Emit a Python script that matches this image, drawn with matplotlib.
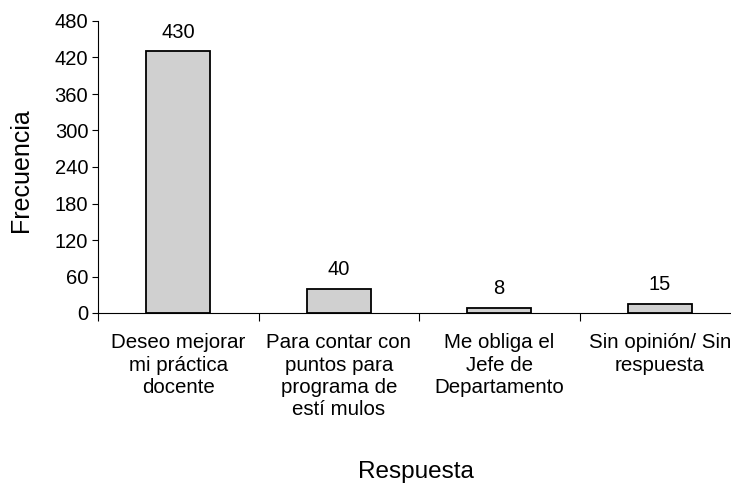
import matplotlib
matplotlib.use("Agg")
import matplotlib.pyplot as plt
import numpy as np

plt.rcParams['font.family'] = ['Liberation Sans', 'DejaVu Sans']

respuestas = [
    "Deseo mejorar\nmi práctica\ndocente",
    "Para contar con\npuntos para\nprograma de\nestí mulos",
    "Me obliga el\nJefe de\nDepartamento",
    "Sin opinión/ Sin\nrespuesta",
]
frecuencia = [430, 40, 8, 15]
y_ticks = [0, 60, 120, 180, 240, 300, 360, 420, 480]

fig = plt.figure(figsize=(7.31, 4.87), dpi=100)
# the plot area runs a little past the right edge of the figure
ax = fig.add_axes([98 / 731, 174 / 487, 642 / 731, 292 / 487])

x = np.arange(len(frecuencia))
ax.bar(x, frecuencia, width=0.4, color="#D0D0D0", edgecolor="black", linewidth=1.3)

for xi, v in zip(x, frecuencia):
    ax.annotate(str(v), (xi, v), xytext=(0, 7), textcoords="offset points",
                ha="center", va="bottom", fontsize=14.5)

ax.set_xlim(-0.5, len(frecuencia) - 0.5)
ax.set_ylim(0, 480)
ax.set_yticks(y_ticks)
ax.tick_params(axis="y", labelsize=14.5, length=4, width=0.8, pad=3)

# category names sit between the boundary tick marks
ax.set_xticks(np.arange(len(frecuencia) + 1) - 0.5)
ax.set_xticklabels([])
ax.tick_params(axis="x", length=6, width=0.8)
for xi, lab in zip(x, respuestas):
    ax.text(xi, -0.07, lab, transform=ax.get_xaxis_transform(), ha="center", va="top",
            fontsize=14.8, linespacing=1.22)

for side in ["top", "right"]:
    ax.spines[side].set_visible(False)
ax.spines["left"].set_linewidth(0.8)
ax.spines["bottom"].set_linewidth(0.8)

fig.text(21 / 731, 1 - 170 / 487, "Frecuencia", rotation=90, ha="center", va="center", fontsize=18)
fig.text(416 / 731, 1 - 472 / 487, "Respuesta", ha="center", va="center", fontsize=17.5)

fig.savefig("out.png", dpi=100)
